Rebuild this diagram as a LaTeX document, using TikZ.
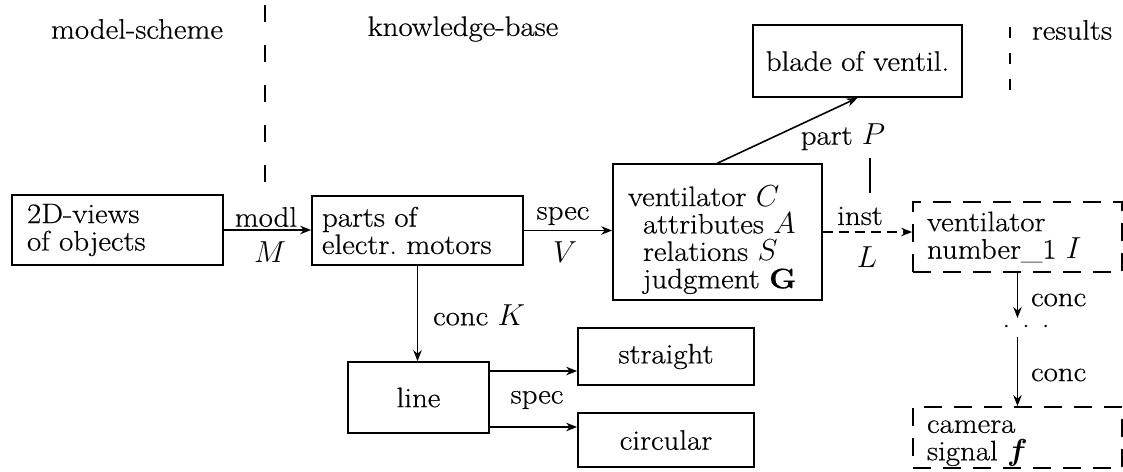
\documentclass[tikz,border=0pt]{standalone}
\usepackage{amsmath,amssymb}
\usepackage{bm}
\usepackage{fontspec}
\setmainfont{Latin Modern Roman}[FakeStretch=1.1, FakeBold=0.5]
\usetikzlibrary{arrows.meta,positioning,calc}

\begin{document}
\begin{tikzpicture}[x=0.02cm, y=-0.02cm, font=\fontsize{16}{15.6}\selectfont,
    box/.style={draw, line width=1pt, rectangle, align=left, inner ysep=0pt},
    dbox/.style={box, dash pattern=on 0.36cm off 0.24cm},
    arr/.style={-{Stealth[length=2.2mm, width=1.7mm]}, line width=0.9pt},
    sep/.style={thick, dash pattern=on 0.34cm off 0.46cm},
    lab/.style={inner sep=1pt}
]
    \useasboundingbox (0,0) rectangle (1123,471);

    % column headings
    \node (hmodel) at (137,29) {model-scheme};
    \node (hknow)  at (463,29) {knowledge-base};
    \node (hres)   at (1072,30) {results};
    \coordinate (s1t) at (265,5);
    \coordinate (s1b) at (265,182);
    \coordinate (s2t) at (1010,27);
    \coordinate (s2b) at (1010,90);
    \draw[sep] (s1t) -- (s1b);
    \draw[thick, dash pattern=on 0.22cm off 0.3cm] (s2t) -- (s2b);

    % concepts
    \node[box, text width=3.62cm, inner xsep=0.3cm, minimum height=1.4cm] (views) at (117.5,230) {2D-views\\of objects};
    \node[box, text width=3.82cm, inner xsep=0.2cm, minimum height=1.38cm] (parts) at (417.5,230.5) {parts of\\electr.\ motors};
    \node[box, text width=3.58cm, inner xsep=0.3cm, minimum height=2.72cm] (vent) at (717.5,232)
        {\rule{0pt}{0.72cm}ventilator $C$\\\hspace*{0.3cm}attributes $A$\\\hspace*{0.3cm}relations $S$\\\hspace*{0.3cm}judgment $\mathbf{G}$};
    \node[box, align=center, text width=3.98cm, inner xsep=0.1cm, minimum height=1.44cm] (blade) at (857.5,61) {blade of ventil.};
    \node[box, align=center, text width=2.42cm, inner xsep=0.2cm, minimum height=1.42cm] (linebox) at (418.5,397.5) {line};
    \node[box, align=center, text width=3.12cm, inner xsep=0.2cm, minimum height=1.14cm] (straight) at (666,356.5) {straight};
    \node[box, align=center, text width=3.12cm, inner xsep=0.2cm, minimum height=1.08cm] (circ) at (666,440) {circular};

    % instances
    \node[dbox, text width=3.62cm, inner xsep=0.28cm, minimum height=1.4cm] (inst) at (1017.5,237) {ventilator\\number\_1 $I$};
    \node[dbox, text width=3.62cm, inner xsep=0.28cm, minimum height=1.22cm] (cam) at (1017.5,437.5) {\rule{0pt}{0.48cm}camera\\signal $\bm{f}$};

    % links
    \draw[arr] (views.east) -- (views.east -| parts.west);
    \node[lab] (lmodl) at (266,217) {modl};
    \node[lab] (lM) at (270,252) {$M$};

    \draw[arr] (parts.east) -- (parts.east -| vent.west);
    \node[lab] (lspec) at (563,216) {spec};
    \node[lab] (lV) at (565,252) {$V$};

    \draw[arr] (vent.north) -- (blade.south);
    \node[lab] (lpart) at (843,137) {part $P$};
    \coordinate (pt1) at (870,158);
    \coordinate (pt2) at (870,193);
    \draw[thick] (pt1) -- (pt2);

    \draw[arr, dash pattern=on 0.2cm off 0.12cm] (vent.east) -- (vent.east -| inst.west);
    \node[lab] (linst) at (860,216) {inst};
    \node[lab] (lL) at (867,257) {$L$};

    \draw[arr] (parts.south) -- (parts.south |- linebox.north);
    \node[lab, anchor=west] (lconcK) at (431,315) {conc $K$};

    \draw[arr] ([yshift=0.53cm]linebox.east) -- ([yshift=0.53cm]linebox.east -| straight.west);
    \draw[arr] ([yshift=-0.59cm]linebox.east) -- ([yshift=-0.59cm]linebox.east -| circ.west);
    \node[lab] (lspec2) at (537,400) {spec};

    \coordinate (c1) at (1017.5,318);
    \coordinate (c2) at (1017.5,337);
    \draw[arr] (inst.south) -- (c1);
    \node[lab, anchor=west] (lconc1) at (1029,300) {conc};
    \node[inner sep=0pt] (dots) at (1026,326) {.\hspace{0.24cm}.\hspace{0.24cm}.};
    \draw[arr] (c2) -- (cam.north);
    \node[lab, anchor=west] (lconc2) at (1029,375) {conc};
\end{tikzpicture}
\end{document}
